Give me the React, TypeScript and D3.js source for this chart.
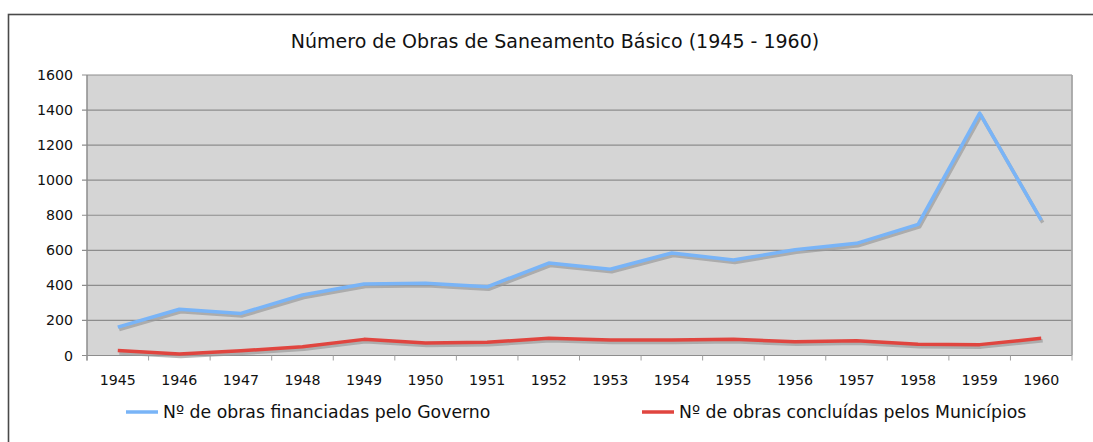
import React from "react";
import * as d3 from "d3";

const years = ["1945","1946","1947","1948","1949","1950","1951","1952","1953","1954","1955","1956","1957","1958","1959","1960"];
const governo = [162, 264, 240, 345, 408, 412, 392, 527, 492, 585, 545, 603, 640, 748, 1383, 772];
const municipios = [28, 8, 27, 50, 92, 72, 75, 98, 88, 88, 92, 78, 84, 64, 62, 98];
const yTicks = [0, 200, 400, 600, 800, 1000, 1200, 1400, 1600];
const seriesNames = ["Nº de obras financiadas pelo Governo", "Nº de obras concluídas pelos Municípios"];
const seriesColors = ["#79b4f7", "#e0453f"];
const title = "Número de Obras de Saneamento Básico (1945 - 1960)";

const W = 1093, H = 442;
const plot = { left: 87, right: 1072, top: 75, bottom: 355.5 };
const font = "'DejaVu Sans', Verdana, sans-serif";

export default function App() {
  const x = d3.scaleBand<string>().domain(years).range([plot.left, plot.right]);
  const y = d3.scaleLinear().domain([0, 1600]).range([plot.bottom, plot.top]);
  const line = d3.line<number>()
    .x((_, i) => (x(years[i]) as number) + x.bandwidth() / 2)
    .y((d) => y(d));
  const series = [governo, municipios];
  const boundaries = years.map((yr) => x(yr) as number).concat([plot.right]);

  return (
    <svg width={W} height={H} style={{ position: "absolute", left: 0, top: 0 }} fontFamily={font}>
      <rect x={0} y={0} width={W} height={H} fill="#fff" />
      <rect x={8.5} y={14.5} width={W + 10} height={H + 10} fill="none" stroke="#4a4a4a" strokeWidth={1.6} />
      <text x={555} y={48} textAnchor="middle" fontSize={19} fill="#111">{title}</text>
      <rect x={plot.left} y={plot.top} width={plot.right - plot.left} height={plot.bottom - plot.top} fill="#d5d5d5" />
      {yTicks.map((t) => (
        <g key={t}>
          <line x1={plot.left - 5} x2={plot.right} y1={y(t)} y2={y(t)} stroke="#8d8d8d" strokeWidth={1.2} />
          <text x={73} y={y(t) + 5} textAnchor="end" fontSize={14.2} fill="#111">{t}</text>
        </g>
      ))}
      <line x1={plot.left} x2={plot.left} y1={plot.top} y2={plot.bottom + 5} stroke="#8d8d8d" strokeWidth={1.5} />
      <line x1={plot.right} x2={plot.right} y1={plot.top} y2={plot.bottom} stroke="#a6a6a6" strokeWidth={1.8} />
      {boundaries.map((b, i) => (
        <line key={i} x1={b} x2={b} y1={plot.bottom} y2={plot.bottom + 5} stroke="#a0a0a0" strokeWidth={1} />
      ))}
      {years.map((yr) => (
        <text key={yr} x={(x(yr) as number) + x.bandwidth() / 2} y={385} textAnchor="middle" fontSize={14.2} fill="#111">{yr}</text>
      ))}
      {series.map((s, i) => (
        <path key={"sh" + i} d={line(s) as string} transform="translate(1.5,2.5)" fill="none" stroke="#9a9a9a" strokeOpacity={0.7} strokeWidth={3.5} strokeLinejoin="round" />
      ))}
      {series.map((s, i) => (
        <path key={"s" + i} d={line(s) as string} fill="none" stroke={seriesColors[i]} strokeWidth={3.5} strokeLinejoin="round" />
      ))}
      {[{ lx: 126, tx: 163 }, { lx: 642, tx: 679 }].map((p, i) => (
        <g key={i}>
          <line x1={p.lx} x2={p.lx + 32} y1={412} y2={412} stroke={seriesColors[i]} strokeWidth={3.5} />
          <text x={p.tx} y={418} fontSize={17.3} fill="#111">{seriesNames[i]}</text>
        </g>
      ))}
    </svg>
  );
}
